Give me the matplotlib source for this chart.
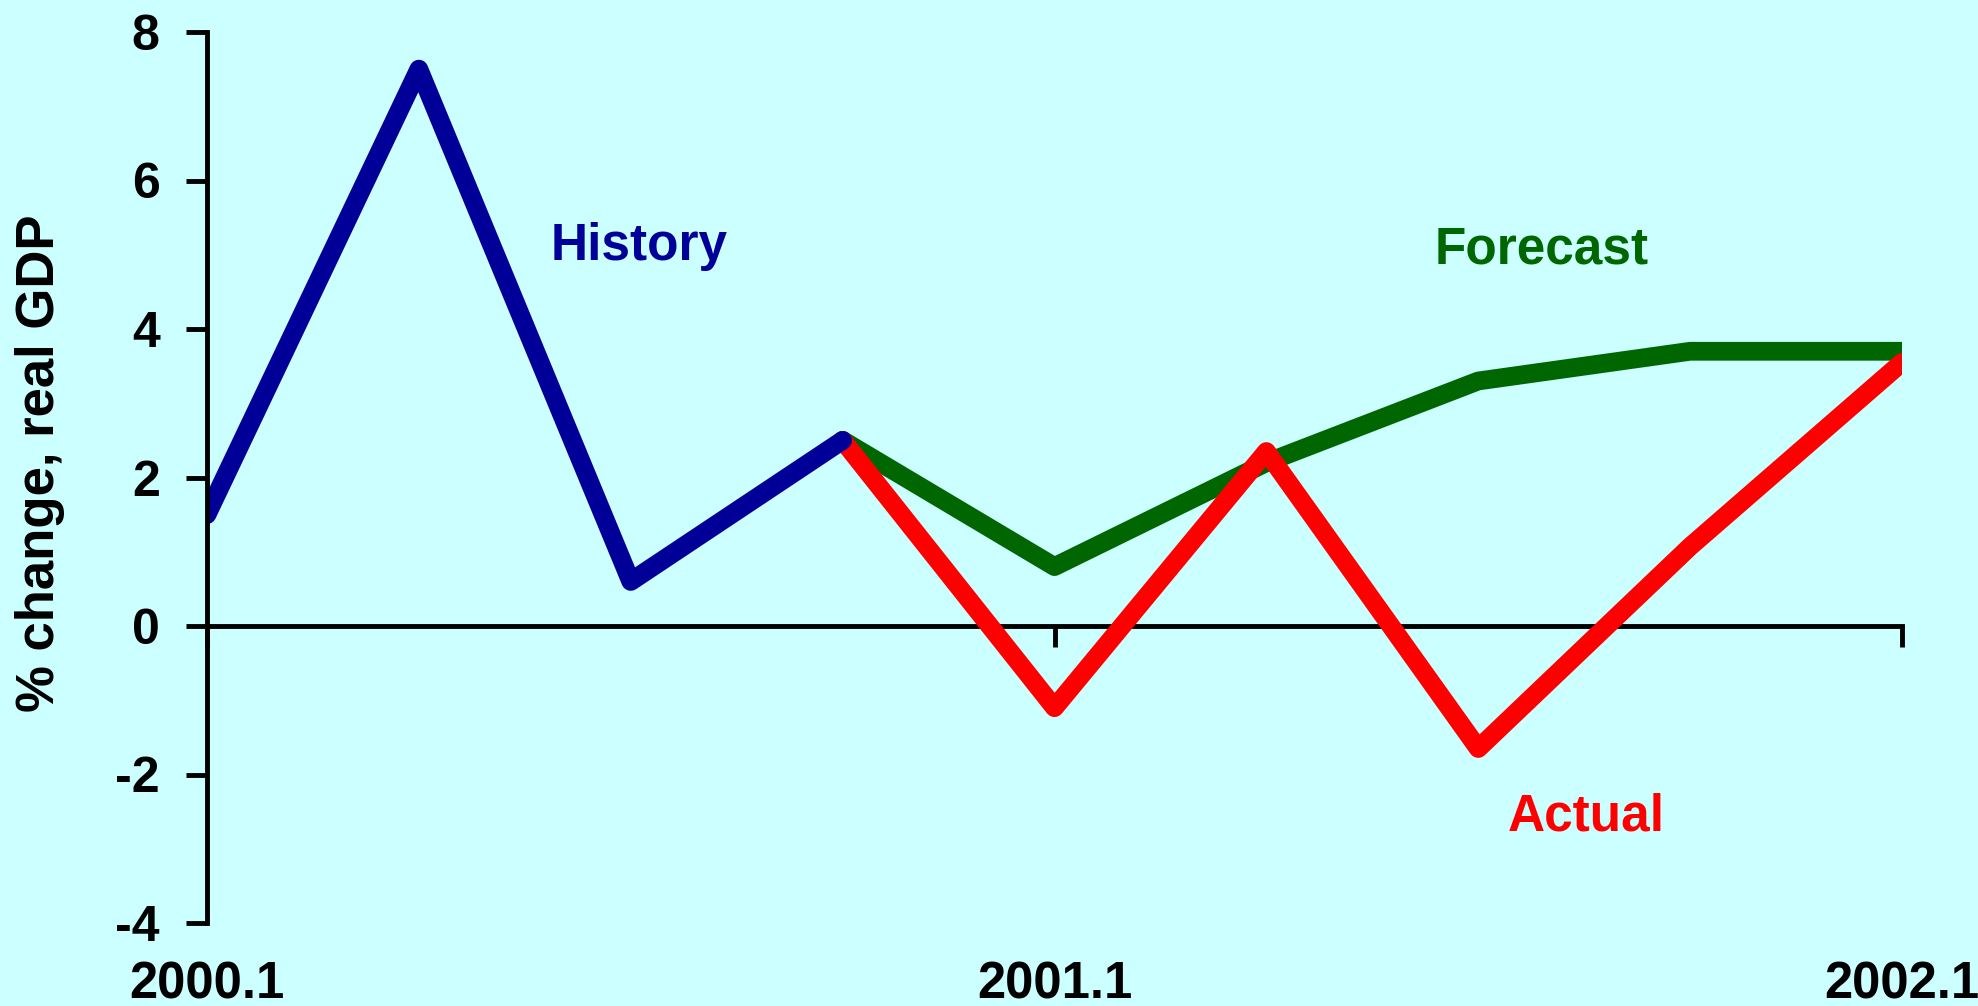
import matplotlib
matplotlib.use("Agg")
from matplotlib import pyplot as plt

# quarters from 2000.1 to 2002.1
quarters = ["2000.1", "2000.2", "2000.3", "2000.4", "2001.1",
            "2001.2", "2001.3", "2001.4", "2002.1"]
history = [1.5, 7.5, 0.6, 2.5]                       # 2000.1 - 2000.4
forecast = [2.5, 0.8, 2.2, 3.3, 3.7, 3.7]            # 2000.4 - 2002.1
actual = [2.5, -1.1, 2.35, -1.65, 1.07, 3.55]        # 2000.4 - 2002.1
year_ticks = ["2000.1", "2001.1", "2002.1"]
y_ticks = [-4, -2, 0, 2, 4, 6, 8]

BG = "#CCFFFF"
BLUE = "#000099"
GREEN = "#006600"
RED = "#FF0000"

plt.rcParams["font.family"] = ["Liberation Sans", "DejaVu Sans"]
plt.rcParams["font.weight"] = "bold"

fig = plt.figure(figsize=(19.78, 10.06), dpi=100, facecolor=BG)
ax = fig.add_axes([207 / 1978, 1 - 923 / 1006, 1695 / 1978, 891 / 1006])
ax.set_facecolor(BG)

x_hist = list(range(len(history)))
x_fc = list(range(len(history) - 1, len(quarters)))

line_kw = dict(linewidth=13.5, solid_capstyle="round", solid_joinstyle="round")
ax.plot(x_fc, forecast, color=GREEN, **line_kw)
ax.plot(x_fc, actual, color=RED, **line_kw)
ax.plot(x_hist, history, color=BLUE, **line_kw)

ax.set_xlim(0, len(quarters) - 1)
ax.set_ylim(-4, 8)

# y axis
for s in ["top", "right", "bottom"]:
    ax.spines[s].set_visible(False)
ax.spines["left"].set_linewidth(3.5)
ax.set_yticks(y_ticks)
ax.set_yticklabels([str(v) for v in y_ticks], fontsize=36, fontweight="bold")
ax.tick_params(axis="y", direction="out", length=15, width=3.5, pad=19)

# x labels at the bottom, no ticks there
ax.set_xticks([quarters.index(q) for q in year_ticks])
ax.set_xticklabels(year_ticks, fontsize=36.5, fontweight="bold")
ax.tick_params(axis="x", length=0, pad=27)

# zero line with downward year ticks
zero = ax.secondary_xaxis(1 / 3)
zero.spines["bottom"].set_linewidth(3.5)
zero.set_xticks([quarters.index(q) for q in year_ticks])
zero.tick_params(axis="x", direction="out", length=15, width=3.5, labelbottom=False)

ax.text(2.04, 4.93, "History", color=BLUE, fontsize=37, fontweight="bold",
        ha="center", va="baseline")
ax.text(6.30, 4.88, "Forecast", color=GREEN, fontsize=37, fontweight="bold",
        ha="center", va="baseline")
ax.text(6.51, -2.75, "Actual", color=RED, fontsize=37, fontweight="bold",
        ha="center", va="baseline")

fig.text(40 / 1978, 1 - 463 / 1006, "% change, real GDP", rotation=90,
         fontsize=38, fontweight="bold", ha="center", va="center")

fig.savefig("out.png", dpi=100, facecolor=BG)
